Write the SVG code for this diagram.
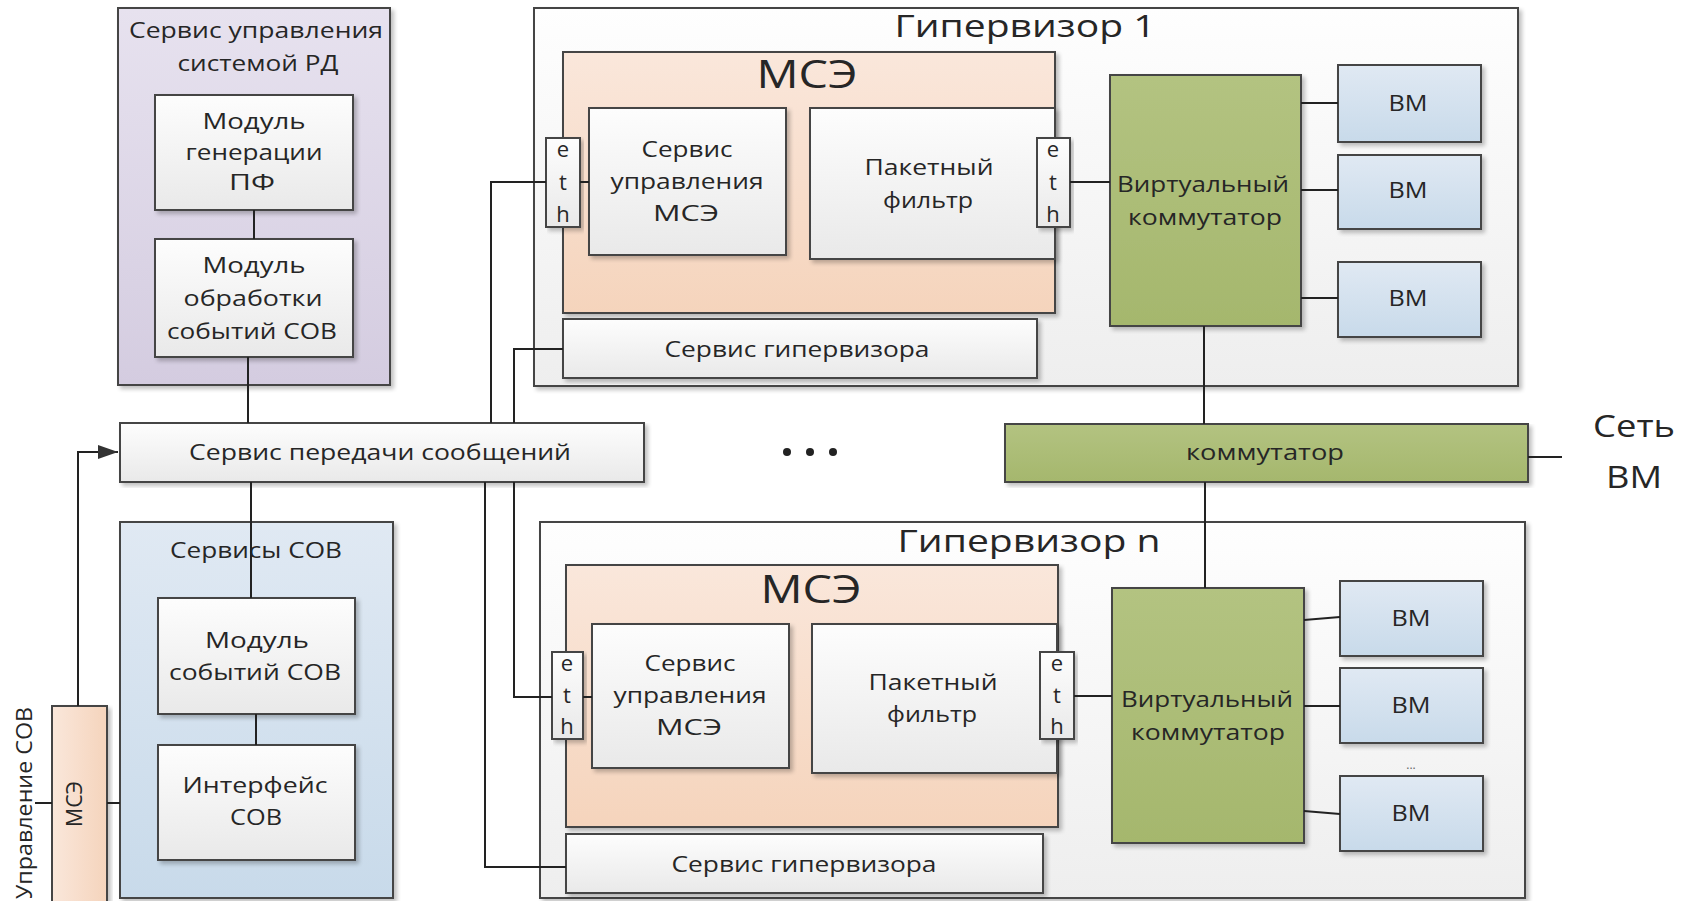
<svg xmlns="http://www.w3.org/2000/svg" width="1688" height="901" viewBox="0 0 1688 901">
<defs>
<linearGradient id="gW" x1="0" y1="0" x2="0" y2="1"><stop offset="0" stop-color="#fdfdfd"/><stop offset="1" stop-color="#e9e9e9"/></linearGradient>
<linearGradient id="gH" x1="0" y1="0" x2="0" y2="1"><stop offset="0" stop-color="#fefefe"/><stop offset="1" stop-color="#eeeeee"/></linearGradient>
<linearGradient id="gP" x1="0" y1="0" x2="0" y2="1"><stop offset="0" stop-color="#e7e2ef"/><stop offset="1" stop-color="#d4cce0"/></linearGradient>
<linearGradient id="gB" x1="0" y1="0" x2="0" y2="1"><stop offset="0" stop-color="#e0e9f3"/><stop offset="1" stop-color="#c8daea"/></linearGradient>
<linearGradient id="gO" x1="0" y1="0" x2="0" y2="1"><stop offset="0" stop-color="#fae7db"/><stop offset="1" stop-color="#f5d4bc"/></linearGradient>
<linearGradient id="gOh" x1="0" y1="0" x2="1" y2="0"><stop offset="0" stop-color="#fae7db"/><stop offset="1" stop-color="#f5d4bc"/></linearGradient>
<linearGradient id="gG" x1="0" y1="0" x2="0" y2="1"><stop offset="0" stop-color="#b3c381"/><stop offset="1" stop-color="#a5b76d"/></linearGradient>
<filter id="sh" x="-5%" y="-5%" width="115%" height="115%">
<feGaussianBlur in="SourceAlpha" stdDeviation="2"/>
<feOffset dx="3" dy="3"/>
<feComponentTransfer><feFuncA type="linear" slope="0.25"/></feComponentTransfer>
<feMerge><feMergeNode/><feMergeNode in="SourceGraphic"/></feMerge>
</filter>
<marker id="arr" viewBox="0 0 20 14" refX="20" refY="7" markerWidth="20" markerHeight="14" markerUnits="userSpaceOnUse" orient="auto">
<path d="M0,0 L20,7 L0,14 Z" fill="#333"/>
</marker>
</defs>
<style>
rect{stroke:#444;stroke-width:2;filter:url(#sh)}
.w{fill:url(#gW)}
.h{fill:url(#gH)}
.p{fill:url(#gP)}
.b{fill:url(#gB)}
.o{fill:url(#gO)}
.g{fill:url(#gG)}
text{font-family:"Open Sans","Liberation Sans",sans-serif;fill:#262626;font-size:22px;text-anchor:middle}
.t{font-size:31px}
.big{font-size:39px}
.s{font-size:12px;fill:#666}
.c line,.c path,.c polyline{stroke:#222;stroke-width:2;fill:none}
</style>

<rect width="1688" height="901" fill="#ffffff" style="stroke:none;filter:none"/>

<!-- Сервис управления системой РД -->
<g id="rd-service">
<rect class="p" x="118" y="8" width="272" height="377"/>
<text x="256" y="38" textLength="254" lengthAdjust="spacingAndGlyphs">Сервис управления</text>
<text x="258" y="71" textLength="161" lengthAdjust="spacingAndGlyphs">системой РД</text>
</g>
<g id="pf-gen">
<rect class="w" x="155" y="95" width="198" height="115"/>
<text x="254" y="129" textLength="103" lengthAdjust="spacingAndGlyphs">Модуль</text>
<text x="254" y="160" textLength="137" lengthAdjust="spacingAndGlyphs">генерации</text>
<text x="252" y="190" textLength="46" lengthAdjust="spacingAndGlyphs">ПФ</text>
</g>
<g id="ids-proc">
<rect class="w" x="155" y="239" width="198" height="118"/>
<text x="254" y="273" textLength="103" lengthAdjust="spacingAndGlyphs">Модуль</text>
<text x="253" y="306" textLength="139" lengthAdjust="spacingAndGlyphs">обработки</text>
<text x="252" y="339" textLength="170" lengthAdjust="spacingAndGlyphs">событий СОВ</text>
</g>

<!-- Сервис передачи сообщений -->
<g id="msg-service">
<rect class="w" x="120" y="423" width="524" height="59"/>
<text x="380" y="460" textLength="382" lengthAdjust="spacingAndGlyphs">Сервис передачи сообщений</text>
</g>

<!-- Сервисы СОВ -->
<g id="ids-services">
<rect class="b" x="120" y="522" width="273" height="376"/>
<text x="256" y="558" textLength="172" lengthAdjust="spacingAndGlyphs">Сервисы СОВ</text>
</g>
<g id="ids-events">
<rect class="w" x="158" y="598" width="197" height="116"/>
<text x="257" y="648" textLength="104" lengthAdjust="spacingAndGlyphs">Модуль</text>
<text x="255" y="680" textLength="172" lengthAdjust="spacingAndGlyphs">событий СОВ</text>
</g>
<g id="ids-iface">
<rect class="w" x="158" y="745" width="197" height="115"/>
<text x="255" y="793" textLength="145" lengthAdjust="spacingAndGlyphs">Интерфейс</text>
<text x="256" y="825" textLength="52" lengthAdjust="spacingAndGlyphs">СОВ</text>
</g>

<!-- small МСЭ -->
<g id="fw-small">
<rect x="52" y="706" width="55" height="205" fill="url(#gOh)"/>
<text transform="translate(82,804) rotate(-90)" font-size="21" textLength="46" lengthAdjust="spacingAndGlyphs">МСЭ</text>
</g>
<g id="ids-control-label">
<text transform="translate(32,803) rotate(-90)" textLength="192" lengthAdjust="spacingAndGlyphs">Управление СОВ</text>
</g>

<!-- Гипервизор 1 -->
<g id="hyp1">
<rect class="h" x="534" y="8" width="984" height="378"/>
<text class="t" x="1025" y="37" textLength="261" lengthAdjust="spacingAndGlyphs">Гипервизор 1</text>
</g>
<g id="hyp1-fw">
<rect class="o" x="563" y="52" width="492" height="261"/>
<text class="big" x="807" y="88" textLength="101" lengthAdjust="spacingAndGlyphs">МСЭ</text>
</g>
<g id="hyp1-fw-ctl">
<rect class="w" x="589" y="108" width="197" height="147"/>
<text x="687" y="157" textLength="91" lengthAdjust="spacingAndGlyphs">Сервис</text>
<text x="687" y="189" textLength="153" lengthAdjust="spacingAndGlyphs">управления</text>
<text x="686" y="221" textLength="66" lengthAdjust="spacingAndGlyphs">МСЭ</text>
</g>
<g id="hyp1-pf">
<rect class="w" x="810" y="108" width="245" height="151"/>
<text x="929" y="175" textLength="129" lengthAdjust="spacingAndGlyphs">Пакетный</text>
<text x="928" y="208" textLength="90" lengthAdjust="spacingAndGlyphs">фильтр</text>
</g>
<g id="hyp1-eth-l">
<rect class="w" x="546" y="138" width="34" height="89"/>
<text x="563" y="157">e</text><text x="563" y="190">t</text><text x="563" y="222">h</text>
</g>
<g id="hyp1-eth-r">
<rect class="w" x="1037" y="138" width="33" height="89"/>
<text x="1053" y="157">e</text><text x="1053" y="190">t</text><text x="1053" y="222">h</text>
</g>
<g id="hyp1-svc">
<rect class="w" x="563" y="319" width="474" height="59"/>
<text x="797" y="357" textLength="265" lengthAdjust="spacingAndGlyphs">Сервис гипервизора</text>
</g>
<g id="hyp1-vswitch">
<rect class="g" x="1110" y="75" width="191" height="251"/>
<text x="1203" y="192" textLength="172" lengthAdjust="spacingAndGlyphs">Виртуальный</text>
<text x="1205" y="225" textLength="154" lengthAdjust="spacingAndGlyphs">коммутатор</text>
</g>
<g id="hyp1-vm1"><rect class="b" x="1338" y="65" width="143" height="77"/><text x="1408" y="111" textLength="39" lengthAdjust="spacingAndGlyphs">ВМ</text></g>
<g id="hyp1-vm2"><rect class="b" x="1338" y="155" width="143" height="74"/><text x="1408" y="198" textLength="39" lengthAdjust="spacingAndGlyphs">ВМ</text></g>
<g id="hyp1-vm3"><rect class="b" x="1338" y="262" width="143" height="75"/><text x="1408" y="306" textLength="39" lengthAdjust="spacingAndGlyphs">ВМ</text></g>

<!-- коммутатор -->
<g id="switch">
<rect class="g" x="1005" y="424" width="523" height="58"/>
<text x="1265" y="460" textLength="158" lengthAdjust="spacingAndGlyphs">коммутатор</text>
</g>
<g id="vm-net">
<text class="t" x="1634" y="437" textLength="82" lengthAdjust="spacingAndGlyphs">Сеть</text>
<text class="t" x="1634" y="488" textLength="56" lengthAdjust="spacingAndGlyphs">ВМ</text>
</g>
<g id="ellipsis">
<circle cx="787" cy="452" r="4" fill="#222"/>
<circle cx="810" cy="452" r="4" fill="#222"/>
<circle cx="833" cy="452" r="4" fill="#222"/>
</g>

<!-- Гипервизор n -->
<g id="hypn">
<rect class="h" x="540" y="522" width="985" height="376"/>
<text class="t" x="1029" y="552" textLength="263" lengthAdjust="spacingAndGlyphs">Гипервизор n</text>
</g>
<g id="hypn-fw">
<rect class="o" x="566" y="565" width="492" height="262"/>
<text class="big" x="811" y="603" textLength="101" lengthAdjust="spacingAndGlyphs">МСЭ</text>
</g>
<g id="hypn-fw-ctl">
<rect class="w" x="592" y="624" width="197" height="144"/>
<text x="690" y="671" textLength="91" lengthAdjust="spacingAndGlyphs">Сервис</text>
<text x="690" y="703" textLength="153" lengthAdjust="spacingAndGlyphs">управления</text>
<text x="689" y="735" textLength="66" lengthAdjust="spacingAndGlyphs">МСЭ</text>
</g>
<g id="hypn-pf">
<rect class="w" x="812" y="624" width="245" height="149"/>
<text x="933" y="690" textLength="129" lengthAdjust="spacingAndGlyphs">Пакетный</text>
<text x="932" y="722" textLength="90" lengthAdjust="spacingAndGlyphs">фильтр</text>
</g>
<g id="hypn-eth-l">
<rect class="w" x="552" y="652" width="31" height="87"/>
<text x="567" y="671">e</text><text x="567" y="703">t</text><text x="567" y="734">h</text>
</g>
<g id="hypn-eth-r">
<rect class="w" x="1040" y="652" width="34" height="87"/>
<text x="1057" y="671">e</text><text x="1057" y="703">t</text><text x="1057" y="734">h</text>
</g>
<g id="hypn-svc">
<rect class="w" x="566" y="834" width="477" height="59"/>
<text x="804" y="872" textLength="265" lengthAdjust="spacingAndGlyphs">Сервис гипервизора</text>
</g>
<g id="hypn-vswitch">
<rect class="g" x="1112" y="588" width="192" height="255"/>
<text x="1207" y="707" textLength="172" lengthAdjust="spacingAndGlyphs">Виртуальный</text>
<text x="1208" y="740" textLength="154" lengthAdjust="spacingAndGlyphs">коммутатор</text>
</g>
<g id="hypn-vm1"><rect class="b" x="1340" y="581" width="143" height="75"/><text x="1411" y="626" textLength="39" lengthAdjust="spacingAndGlyphs">ВМ</text></g>
<g id="hypn-vm2"><rect class="b" x="1340" y="668" width="143" height="75"/><text x="1411" y="713" textLength="39" lengthAdjust="spacingAndGlyphs">ВМ</text></g>
<g id="hypn-vm3"><rect class="b" x="1340" y="776" width="143" height="75"/><text x="1411" y="821" textLength="39" lengthAdjust="spacingAndGlyphs">ВМ</text></g>
<g id="hypn-more"><text class="s" x="1411" y="769">...</text></g>

<!-- Connectors -->
<g id="connectors" class="c">
<line x1="254" y1="210" x2="254" y2="239"/>
<line x1="248" y1="357" x2="248" y2="423"/>
<line x1="251" y1="482" x2="251" y2="598"/>
<line x1="256" y1="714" x2="256" y2="745"/>
<polyline points="78,706 78,452 118,452" marker-end="url(#arr)"/>
<line x1="35" y1="803" x2="52" y2="803"/>
<line x1="107" y1="803" x2="120" y2="803"/>
<polyline points="491,423 491,182 546,182"/>
<polyline points="514,423 514,349 563,349"/>
<polyline points="485,482 485,867 566,867"/>
<polyline points="514,482 514,697 552,697"/>
<line x1="580" y1="182" x2="589" y2="182"/>
<line x1="1070" y1="182" x2="1110" y2="182"/>
<line x1="1301" y1="103" x2="1338" y2="103"/>
<line x1="1301" y1="190" x2="1338" y2="190"/>
<line x1="1301" y1="298" x2="1338" y2="298"/>
<line x1="1204" y1="326" x2="1204" y2="424"/>
<line x1="1528" y1="457" x2="1562" y2="457"/>
<line x1="1205" y1="482" x2="1205" y2="588"/>
<line x1="583" y1="697" x2="592" y2="697"/>
<line x1="1074" y1="696" x2="1112" y2="696"/>
<line x1="1304" y1="620" x2="1340" y2="617"/>
<line x1="1304" y1="706" x2="1340" y2="706"/>
<line x1="1304" y1="811" x2="1340" y2="814"/>
</g>
</svg>
